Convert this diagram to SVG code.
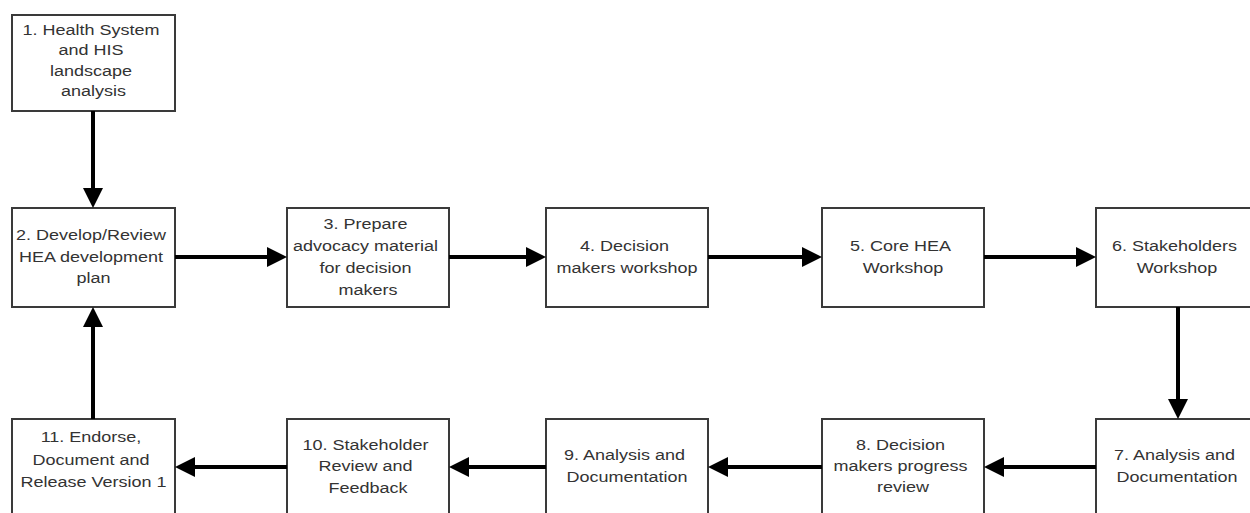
<svg xmlns="http://www.w3.org/2000/svg" width="1250" height="513" viewBox="0 0 1250 513">
  <style>
    .box { fill: #ffffff; stroke: #3a3a3a; stroke-width: 2; }
    .label { font-family: "Liberation Sans", Arial, sans-serif; font-size: 15px; fill: #333333; text-anchor: middle; }
    .flow { stroke: #000000; stroke-width: 4; fill: none; marker-end: url(#head); }
  </style>
  <defs>
    <marker id="head" viewBox="0 0 20 20" refX="0" refY="10" markerWidth="20" markerHeight="20" markerUnits="userSpaceOnUse" orient="auto">
      <path d="M0,0 L20,10 L0,20 z" fill="#000000"/>
    </marker>
  </defs>
  <rect width="1250" height="513" fill="#ffffff"/>

  <!-- process steps; labels are widened 1.2x horizontally -->
  <g id="step1">
    <rect class="box" x="12" y="15" width="163" height="96"/>
    <text class="label" transform="matrix(1.2 0 0 1 93.5 0)">
      <tspan x="0" y="35">1. Health System</tspan>
      <tspan x="0" y="55">and HIS</tspan>
      <tspan x="0" y="76">landscape</tspan>
      <tspan x="0" y="96">analysis</tspan>
    </text>
  </g>
  <g id="step2">
    <rect class="box" x="12" y="208" width="163" height="99"/>
    <text class="label" transform="matrix(1.2 0 0 1 93.5 0)">
      <tspan x="0" y="240">2. Develop/Review</tspan>
      <tspan x="0" y="262">HEA development</tspan>
      <tspan x="0" y="283">plan</tspan>
    </text>
  </g>
  <g id="step3">
    <rect class="box" x="287" y="208" width="162" height="99"/>
    <text class="label" transform="matrix(1.2 0 0 1 368 0)">
      <tspan x="0" y="229">3. Prepare</tspan>
      <tspan x="0" y="251">advocacy material</tspan>
      <tspan x="0" y="273">for decision</tspan>
      <tspan x="0" y="295">makers</tspan>
    </text>
  </g>
  <g id="step4">
    <rect class="box" x="546" y="208" width="162" height="99"/>
    <text class="label" transform="matrix(1.2 0 0 1 627 0)">
      <tspan x="0" y="251">4. Decision</tspan>
      <tspan x="0" y="273">makers workshop</tspan>
    </text>
  </g>
  <g id="step5">
    <rect class="box" x="822" y="208" width="162" height="99"/>
    <text class="label" transform="matrix(1.2 0 0 1 903 0)">
      <tspan x="0" y="251">5. Core HEA</tspan>
      <tspan x="0" y="273">Workshop</tspan>
    </text>
  </g>
  <g id="step6">
    <rect class="box" x="1096" y="208" width="163" height="99"/>
    <text class="label" transform="matrix(1.2 0 0 1 1177 0)">
      <tspan x="0" y="251">6. Stakeholders</tspan>
      <tspan x="0" y="273">Workshop</tspan>
    </text>
  </g>
  <g id="step7">
    <rect class="box" x="1096" y="419" width="163" height="99"/>
    <text class="label" transform="matrix(1.2 0 0 1 1177 0)">
      <tspan x="0" y="460">7. Analysis and</tspan>
      <tspan x="0" y="482">Documentation</tspan>
    </text>
  </g>
  <g id="step8">
    <rect class="box" x="822" y="419" width="162" height="99"/>
    <text class="label" transform="matrix(1.2 0 0 1 903 0)">
      <tspan x="0" y="450">8. Decision</tspan>
      <tspan x="0" y="471">makers progress</tspan>
      <tspan x="0" y="492">review</tspan>
    </text>
  </g>
  <g id="step9">
    <rect class="box" x="546" y="419" width="162" height="99"/>
    <text class="label" transform="matrix(1.2 0 0 1 627 0)">
      <tspan x="0" y="460">9. Analysis and</tspan>
      <tspan x="0" y="482">Documentation</tspan>
    </text>
  </g>
  <g id="step10">
    <rect class="box" x="287" y="419" width="162" height="99"/>
    <text class="label" transform="matrix(1.2 0 0 1 368 0)">
      <tspan x="0" y="450">10. Stakeholder</tspan>
      <tspan x="0" y="471">Review and</tspan>
      <tspan x="0" y="493">Feedback</tspan>
    </text>
  </g>
  <g id="step11">
    <rect class="box" x="12" y="419" width="163" height="99"/>
    <text class="label" transform="matrix(1.2 0 0 1 93.5 0)">
      <tspan x="0" y="442">11. Endorse,</tspan>
      <tspan x="0" y="465">Document and</tspan>
      <tspan x="0" y="487">Release Version 1</tspan>
    </text>
  </g>

  <!-- connectors: each line stops where its arrowhead begins -->
  <g id="connectors">
    <path class="flow" d="M93,111 V188"/>
    <path class="flow" d="M175,257 H267"/>
    <path class="flow" d="M449,257 H526"/>
    <path class="flow" d="M708,257 H802"/>
    <path class="flow" d="M984,257 H1076"/>
    <path class="flow" d="M1178,307 V399"/>
    <path class="flow" d="M1096,467 H1004"/>
    <path class="flow" d="M822,467 H728"/>
    <path class="flow" d="M546,467 H469"/>
    <path class="flow" d="M287,467 H195"/>
    <path class="flow" d="M93,419 V327"/>
  </g>
</svg>
